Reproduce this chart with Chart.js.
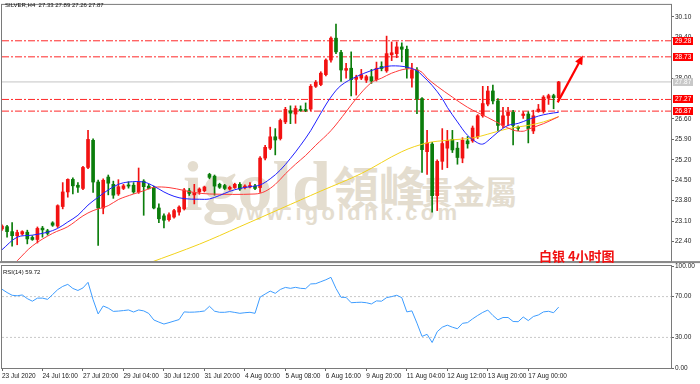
<!DOCTYPE html>
<html><head><meta charset="utf-8">
<script src="https://cdn.jsdelivr.net/npm/chart.js@4.4.1/dist/chart.umd.min.js"></script>
<style>
html,body{margin:0;padding:0;background:#fff;}
#wrap{position:relative;width:700px;height:384px;overflow:hidden;font-family:"Liberation Sans",Arial,sans-serif;}
canvas{position:absolute;left:0;}
#cA{top:0;}
#cB{top:256px;}
.wm{position:absolute;color:#e4ddcf;white-space:nowrap;line-height:1;}
#wm1{left:183px;top:147px;font:bold 70px "Liberation Serif","DejaVu Serif",serif;}
#wm2{left:333px;top:152px;font:bold 46px "Noto Sans CJK TC",sans-serif;}
#wm3{left:421px;top:167px;font:bold 32px "Noto Sans CJK TC",sans-serif;}
#wm4{left:226px;top:200px;font:bold 22px "Liberation Sans",Arial,sans-serif;letter-spacing:3.2px;}
#title{position:absolute;left:5px;top:2px;font-size:6px;color:#111;white-space:pre;}
#rsiTitle{position:absolute;left:3px;top:269px;font-size:6px;color:#111;}
#caption{position:absolute;left:539px;top:246px;font:bold 13px "Noto Sans CJK SC",sans-serif;color:#f01010;white-space:nowrap;}
</style></head>
<body><div id="wrap">
<div class="wm" id="wm1">igold</div>
<div class="wm" id="wm2">領峰</div>
<div class="wm" id="wm3">貴金屬</div>
<div class="wm" id="wm4">www.igoldhk.com</div>
<canvas id="cA" width="700" height="266"></canvas>
<canvas id="cB" width="700" height="128"></canvas>
<div id="title">SILVER,H4  27.33 27.89 27.26 27.87</div>
<div id="rsiTitle">RSI(14) 59.72</div>
<div id="caption">白银 4小时图</div>
</div>
<script>
// ---- data (H4 bars, index 0..110) ----
const OPEN = [22.83,22.91,22.74,22.60,22.66,22.72,22.54,22.47,22.86,22.77,
23.04,22.93,23.60,24.10,24.53,24.33,24.22,24.94,25.87,24.44,
23.55,24.61,24.36,24.03,24.22,24.34,24.33,24.10,24.47,24.30,
24.25,23.55,23.28,23.15,23.24,23.41,23.52,24.14,24.00,24.10,
24.14,24.70,24.64,24.36,24.32,24.20,24.25,24.36,24.25,24.27,
24.30,24.25,25.26,25.60,25.99,25.93,26.50,26.88,26.77,26.93,
26.92,26.94,27.72,27.78,28.12,28.62,29.37,28.88,28.27,28.34,
27.96,28.00,27.93,28.05,27.95,28.40,28.25,28.80,28.84,29.07,
28.99,28.00,28.28,27.30,25.48,25.74,23.97,25.15,25.60,25.90,
25.60,25.26,25.85,25.85,25.99,26.71,27.11,27.56,27.22,26.38,
26.72,26.83,26.32,26.72,26.77,26.19,26.86,26.86,27.31,27.40,
27.33];
const HIGH = [22.97,22.96,23.05,22.79,22.77,22.79,22.60,22.90,22.92,22.82,
23.08,23.66,24.42,24.55,24.58,24.42,24.98,26.21,25.92,24.51,
24.55,24.68,24.47,24.52,24.36,24.45,24.42,24.92,24.52,24.36,
24.30,23.69,23.35,23.38,23.50,23.62,24.22,24.22,24.36,24.24,
24.30,24.74,24.68,24.40,24.36,24.30,24.40,24.42,24.34,24.42,
24.36,25.31,25.70,26.32,26.27,26.60,27.00,27.05,27.05,27.05,
27.15,27.78,27.92,28.22,28.66,29.42,29.85,28.95,28.51,28.90,
28.10,28.30,28.10,28.30,28.55,28.56,29.44,29.24,29.24,29.21,
29.10,28.51,28.36,27.33,26.21,25.80,25.20,26.27,26.21,26.21,
25.80,25.96,26.00,26.36,26.75,27.72,27.72,27.76,27.30,27.00,
27.00,26.90,26.36,26.85,26.85,26.90,27.10,27.40,27.45,27.45,
27.89];
const LOW = [22.78,22.55,22.24,22.29,22.62,22.32,22.44,22.35,22.55,22.62,
22.92,22.88,23.52,23.92,24.03,24.08,24.18,24.90,24.08,22.27,
23.35,24.00,23.88,23.98,24.18,24.23,24.05,24.05,23.30,24.20,
23.52,23.05,22.87,23.10,23.20,23.30,23.48,23.98,23.69,24.02,
24.10,24.55,23.99,24.22,24.18,24.16,24.22,24.15,24.20,24.24,
24.18,24.08,25.20,25.55,25.37,25.88,26.44,26.44,26.45,26.86,
26.85,26.88,27.68,27.74,28.08,28.55,28.84,27.89,28.00,27.39,
27.42,27.95,27.85,27.82,27.90,28.25,28.20,28.60,28.70,28.56,
28.00,27.69,26.78,24.77,24.70,23.41,23.46,24.87,24.93,25.45,
25.05,25.10,25.60,25.80,25.93,26.66,27.05,27.12,26.20,26.30,
26.38,25.71,26.20,26.62,25.78,26.10,26.83,26.80,27.10,26.95,
27.26];
const CLOSE = [22.93,22.74,22.60,22.71,22.74,22.49,22.47,22.85,22.80,22.68,
22.96,23.63,24.10,24.53,24.31,24.26,24.94,25.90,24.44,23.55,
24.50,24.40,23.99,24.28,24.31,24.30,24.10,24.43,24.28,24.22,
23.55,23.18,23.13,23.32,23.46,23.58,24.17,24.05,24.08,24.20,
24.27,24.60,24.30,24.26,24.22,24.26,24.36,24.20,24.30,24.32,
24.22,25.26,25.63,25.99,25.88,26.55,26.93,26.80,26.96,26.89,
26.89,27.72,27.86,28.17,28.62,29.37,28.90,28.28,28.33,27.95,
28.03,28.12,28.05,27.90,28.34,28.33,28.84,28.87,29.07,28.99,
28.34,28.28,27.28,25.55,25.78,23.97,25.15,25.76,25.87,25.54,
25.28,25.87,25.75,26.29,26.71,27.13,27.56,27.22,26.38,26.71,
26.83,26.38,26.28,26.77,26.27,26.71,26.94,27.35,27.40,27.33,
27.87];
// moving averages: [bar index, value]
const MA_FAST = [[0,22.12],[3,22.55],[6,22.62],[9,22.72],[11,22.85],[13,23.07],[15,23.30],[17,23.65],[19,23.92],[21,24.17],[23,24.36],[25,24.44],[28,24.44],[30,24.30],[32,24.10],[34,23.95],[36,23.87],[39,23.85],[41,23.86],[43,23.98],[45,24.12],[47,24.22],[49,24.28],[51,24.34],[53,24.55],[55,24.85],[57,25.25],[59,25.70],[61,26.20],[63,26.80],[65,27.35],[67,27.75],[70,28.05],[73,28.26],[75,28.36],[77,28.42],[80,28.38],[82,28.25],[83,28.10],[85,27.75],[87,27.30],[88,27.00],[90,26.50],[92,26.04],[94,25.78],[95,25.74],[96,25.85],[98,26.15],[100,26.38],[102,26.45],[104,26.58],[106,26.70],[108,26.78],[110,26.83]];
const MA_MID = [[3,21.74],[6,22.25],[10,22.68],[13,22.91],[16,23.28],[18,23.46],[21,23.63],[23,23.84],[26,24.03],[28,24.14],[30,24.26],[33,24.25],[36,24.15],[38,24.08],[41,24.03],[50,24.03],[52,24.12],[54,24.36],[56,24.72],[58,25.05],[60,25.35],[62,25.70],[65,26.20],[68,26.85],[70,27.30],[73,27.85],[75,28.00],[77,28.17],[80,28.32],[82,28.28],[83,28.20],[84,28.00],[86,27.72],[89,27.35],[92,27.00],[96,26.65],[99,26.38],[101,26.22],[103,26.18],[104,26.25],[107,26.44],[110,26.68]];
const MA_SLOW = [[29,21.66],[39,22.31],[47,22.91],[55,23.52],[63,24.13],[71,24.73],[79,25.48],[84,25.78],[88,25.87],[93,25.95],[96,26.08],[100,26.27],[104,26.38],[107,26.50],[110,26.68]];
const RSI = [77.2,74,71.3,70.8,71.6,68,65.5,68.5,68.5,67.3,
72,76.8,80,82,78,76,78.5,84,67,53,
60.8,58.7,55.5,55.8,56.3,56.9,54.9,56.9,56,53.5,
47.1,45,43.1,44.5,46,47.5,55,54.7,54.8,55.2,
55.9,60.5,55.7,54.6,54.6,55.3,54.5,53.6,54.2,54.6,
53.6,69.5,72.5,75.4,73.2,77,79,78.1,79.1,78.1,
77.8,82.4,82.7,84.6,86.5,88.9,78,69.3,69.2,64,
64.3,64.5,64,62.8,65.8,65.5,69,70,71.3,69,
55,56,44,31,33,25,35.6,40,42,40,
38.5,43.8,44.5,48.2,51.5,54.5,56.8,51.5,47.2,49.5,
49.5,45.6,45.4,50,46.5,50.5,52,55,55.6,54.2,
59.72];
const PRICE_TICKS = [22.40,23.10,23.80,24.50,25.20,25.90,26.60,28.00,29.40,30.10];
const RSI_TICKS = [0,30,70,100];
const RSI_LEVELS = [30,70];
const LEVELS = [29.28,28.73,27.27,26.87];
const LAST_PRICE = 27.87;
const TIME_LABELS = ['23 Jul 2020','24 Jul 16:00','27 Jul 20:00','29 Jul 04:00','30 Jul 12:00','31 Jul 20:00','4 Aug 00:00','5 Aug 08:00','6 Aug 16:00','9 Aug 20:00','11 Aug 04:00','12 Aug 12:00','13 Aug 20:00','17 Aug 00:00'];
const BARS_PER_LABEL = 8;
const ARROW = [[109.8,27.17],[114.8,28.78]];

// ---- styling ----
const UP = '#f21212', DOWN = '#0b7d0b';
const FONT = {family:'"Liberation Sans", Arial, sans-serif', size:6.5};
const X_RANGE = {min:0, max:132.2};
const idx = OPEN.map((_, i) => i);
const colors = idx.map(i => CLOSE[i] >= OPEN[i] ? UP : DOWN);
const pts = arr => arr.map(([x, y]) => ({x, y}));
const hline = v => [{x: X_RANGE.min, y: v}, {x: X_RANGE.max, y: v}];

function frame(ctx, a, color){
  ctx.save();
  ctx.strokeStyle = color; ctx.lineWidth = 1; ctx.setLineDash([]);
  ctx.strokeRect(a.left - 0.5, a.top - 0.5, a.right - a.left + 1, a.bottom - a.top + 1);
  ctx.restore();
}

const mainDecor = {
  id: 'mainDecor',
  afterDraw(chart){
    const {ctx, chartArea: a, scales: {x, y}} = chart;
    // arrow
    ctx.save();
    ctx.setLineDash([]);
    const x1 = x.getPixelForValue(ARROW[0][0]), y1 = y.getPixelForValue(ARROW[0][1]);
    const x2 = x.getPixelForValue(ARROW[1][0]), y2 = y.getPixelForValue(ARROW[1][1]);
    const ang = Math.atan2(y2 - y1, x2 - x1);
    ctx.strokeStyle = '#ff0000'; ctx.fillStyle = '#ff0000'; ctx.lineWidth = 2.2;
    ctx.beginPath(); ctx.moveTo(x1, y1);
    ctx.lineTo(x2 - 6 * Math.cos(ang), y2 - 6 * Math.sin(ang)); ctx.stroke();
    ctx.beginPath(); ctx.moveTo(x2, y2);
    ctx.lineTo(x2 - 9 * Math.cos(ang) + 4 * Math.sin(ang), y2 - 9 * Math.sin(ang) - 4 * Math.cos(ang));
    ctx.lineTo(x2 - 9 * Math.cos(ang) - 4 * Math.sin(ang), y2 - 9 * Math.sin(ang) + 4 * Math.cos(ang));
    ctx.closePath(); ctx.fill();
    ctx.restore();
    // frame
    frame(ctx, a, '#7a7a7a');
    ctx.save(); ctx.fillStyle = '#8a8a8a'; ctx.fillRect(0, a.bottom, 700, 2); ctx.restore();
    // price labels on axis
    ctx.save();
    ctx.font = '6.5px "Liberation Sans", Arial, sans-serif';
    ctx.textBaseline = 'middle';
    const box = (v, bg, fg) => {
      const py = Math.round(y.getPixelForValue(v));
      ctx.fillStyle = bg; ctx.fillRect(a.right + 2, py - 4, 20, 8);
      ctx.fillStyle = fg; ctx.fillText(v.toFixed(2), a.right + 4, py + 0.5);
    };
    LEVELS.forEach(v => box(v, '#ff0000', '#ffffff'));
    box(LAST_PRICE, '#c8c8c8', '#ffffff');
    ctx.restore();
  }
};

const levelSets = LEVELS.map(v => ({type: 'line', data: hline(v), borderColor: 'rgb(255,40,40)', borderWidth: 1,
  borderDash: [7, 2, 2, 2], pointRadius: 0, order: 5}));

new Chart(document.getElementById('cA'), {
  type: 'bar',
  data: {datasets: [
    {type: 'line', data: pts(MA_FAST), borderColor: '#1f1fff', borderWidth: 1, pointRadius: 0, tension: 0.35, order: 0},
    {type: 'line', data: pts(MA_MID), borderColor: '#ff3a3a', borderWidth: 1, pointRadius: 0, tension: 0.35, order: 0},
    {type: 'line', data: pts(MA_SLOW), borderColor: '#f2d21a', borderWidth: 1, pointRadius: 0, tension: 0.35, order: 0},
    {data: idx.map(i => ({x: i, y: [OPEN[i], CLOSE[i]]})), backgroundColor: colors, barThickness: 3, minBarLength: 1, grouped: false, order: 1},
    {data: idx.map(i => ({x: i, y: [LOW[i], HIGH[i]]})), backgroundColor: colors, barThickness: 1, grouped: false, order: 2},
    {type: 'line', data: hline(LAST_PRICE), borderColor: '#c4c4c4', borderWidth: 1, pointRadius: 0, order: 6},
    ...levelSets
  ]},
  options: {
    responsive: false, animation: false,
    layout: {padding: {left: 2, top: 2, right: 0, bottom: 2}},
    plugins: {legend: {display: false}, tooltip: {enabled: false}},
    scales: {
      x: {type: 'linear', min: X_RANGE.min, max: X_RANGE.max, offset: false, display: false, grid: {offset: false}},
      y: {position: 'right', min: 21.73, max: 30.51, beginAtZero: false,
          afterFit(s){ s.width = 29; },
          afterBuildTicks(s){ s.ticks = PRICE_TICKS.map(v => ({value: v})); },
          ticks: {font: FONT, color: '#222', padding: 1, callback: v => Number(v).toFixed(2)},
          grid: {drawOnChartArea: false, tickLength: 3, color: '#666'},
          border: {display: false}}
    }
  },
  plugins: [mainDecor]
});

const rsiDecor = {
  id: 'rsiDecor',
  afterDraw(chart){ frame(chart.ctx, chart.chartArea, '#7a7a7a'); }
};

new Chart(document.getElementById('cB'), {
  type: 'line',
  data: {datasets: [
    {data: idx.map(i => ({x: i, y: RSI[i]})), borderColor: '#3d9cff', borderWidth: 1, pointRadius: 0, tension: 0, order: 0},
    ...RSI_LEVELS.map(v => ({data: hline(v), borderColor: '#c8c8c8', borderWidth: 1, borderDash: [2, 2], pointRadius: 0, order: 1}))
  ]},
  options: {
    responsive: false, animation: false,
    layout: {padding: {left: 2, top: 10, right: 0, bottom: 0}},
    plugins: {legend: {display: false}, tooltip: {enabled: false}},
    scales: {
      x: {type: 'linear', min: X_RANGE.min, max: X_RANGE.max,
          afterFit(s){ s.height = 16; },
          afterBuildTicks(s){ s.ticks = TIME_LABELS.map((_, k) => ({value: k * BARS_PER_LABEL})); },
          ticks: {font: FONT, color: '#222', align: 'start', autoSkip: false, maxRotation: 0, minRotation: 0, padding: 1,
                  callback: (v, i) => TIME_LABELS[i]},
          grid: {drawOnChartArea: false, tickLength: 3, color: '#666'},
          border: {display: false}},
      y: {position: 'right', min: 0, max: 100,
          afterFit(s){ s.width = 29; },
          afterBuildTicks(s){ s.ticks = RSI_TICKS.map(v => ({value: v})); },
          ticks: {font: FONT, color: '#222', padding: 1, callback: v => Number(v).toFixed(2)},
          grid: {drawOnChartArea: false, tickLength: 3, color: '#666'},
          border: {display: false}}
    }
  },
  plugins: [rsiDecor]
});
</script>
</body></html>
